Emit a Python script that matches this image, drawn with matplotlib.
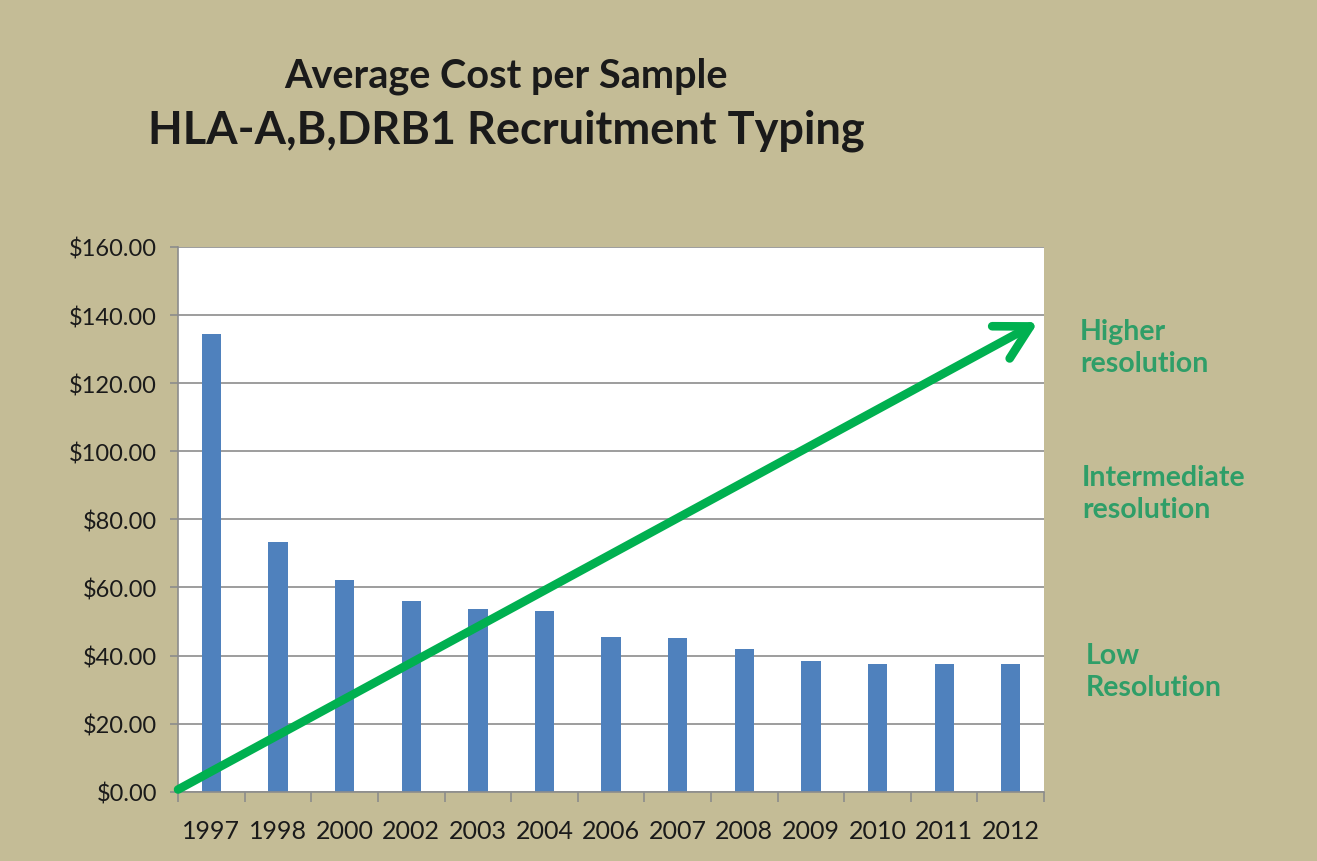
import matplotlib.pyplot as plt
from matplotlib.ticker import FuncFormatter, FixedLocator

# data
years = ["1997", "1998", "2000", "2002", "2003", "2004", "2006",
         "2007", "2008", "2009", "2010", "2011", "2012"]
cost = [134.5, 73.3, 62.2, 56.0, 53.7, 53.1, 45.5,
        45.1, 41.9, 38.5, 37.6, 37.6, 37.6]
y_ticks = [0, 20, 40, 60, 80, 100, 120, 140, 160]

BG = "#C4BC96"
BAR = "#4F81BD"
ARROW = "#00B050"
TXT_GREEN = "#2F9E68"
FONT = "Lato"

fig = plt.figure(figsize=(13.17, 8.62), dpi=100)
fig.patch.set_facecolor(BG)

ax = fig.add_axes([0.1352, 0.0804, 0.6576, 0.6319])
ax.set_facecolor("white")

x = list(range(len(years)))
ax.bar(x, cost, width=0.29, color=BAR, zorder=2)

ax.set_xlim(-0.5, len(years) - 0.5)
ax.set_ylim(0, 160)
ax.set_yticks(y_ticks)
ax.yaxis.set_major_formatter(FuncFormatter(lambda v, p: f"${v:.2f}"))
ax.grid(axis="y", color="#8C8C8C", linewidth=1.2, zorder=1)

ax.set_xticks(x)
ax.set_xticklabels(years)
ax.xaxis.set_minor_locator(FixedLocator([i - 0.5 for i in range(len(years) + 1)]))
ax.tick_params(axis="x", which="major", length=0, pad=20)
ax.tick_params(axis="x", which="minor", length=7, color="#8C8C8C", width=1.2)
ax.tick_params(axis="y", length=6, color="#8C8C8C", width=1.2, pad=9)
for lbl in ax.get_xticklabels() + ax.get_yticklabels():
    lbl.set_fontfamily(FONT)
    lbl.set_fontsize(18)
    lbl.set_color("#1a1a1a")
for lbl in ax.get_yticklabels():
    lbl.set_fontsize(17)

for s in ["top", "right"]:
    ax.spines[s].set_visible(False)
for s in ["left", "bottom"]:
    ax.spines[s].set_color("#8C8C8C")
    ax.spines[s].set_linewidth(1.2)

# green trend arrow (decoration)
ax.annotate("", xy=(0.993, 0.862), xytext=(0.0, 0.004),
            xycoords="axes fraction", textcoords="axes fraction",
            arrowprops=dict(arrowstyle="->, head_length=1.0, head_width=0.55",
                            mutation_scale=24, color=ARROW, lw=6.2,
                            capstyle="round", joinstyle="round",
                            shrinkA=0, shrinkB=0),
            annotation_clip=False, zorder=3)

# title
fig.text(506 / 1317, 1 - 76 / 862, "Average Cost per Sample", ha="center", va="center",
         fontsize=28.5, fontweight="bold", fontfamily=FONT, color="#1a1a1a")
fig.text(506 / 1317, 1 - 131 / 862, "HLA-A,B,DRB1 Recruitment Typing", ha="center", va="center",
         fontsize=32.5, fontweight="bold", fontfamily=FONT, color="#1a1a1a")

# side notes
notes = [("Higher\nresolution", 1080, 319),
         ("Intermediate\nresolution", 1082, 465),
         ("Low\nResolution", 1086, 643)]
for txt, px, py in notes:
    fig.text(px / 1317, 1 - py / 862, txt, ha="left", va="top", fontsize=20.5,
             fontweight="bold", fontfamily=FONT, color=TXT_GREEN, linespacing=1.3)

fig.savefig("out.png", dpi=100, facecolor=BG)
